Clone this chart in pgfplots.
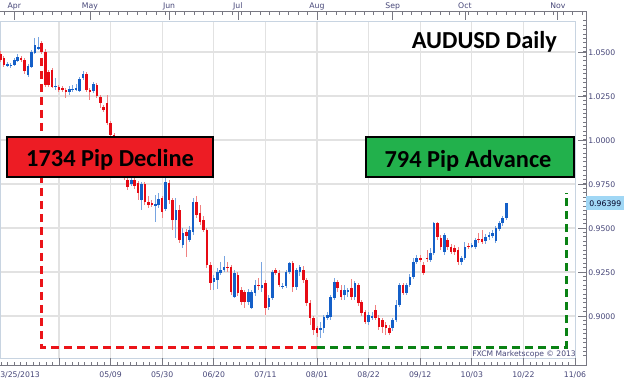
\documentclass[border=0pt]{standalone}
\usepackage{pgfplots}
\pgfplotsset{compat=1.18}
\usepackage{pgfplotstable}
\usepackage{fontspec}
\setmainfont{DejaVu Sans}
\newfontfamily\carlito{Carlito}
\definecolor{upbody}{RGB}{20,95,200}
\definecolor{upwick}{RGB}{120,165,225}
\definecolor{dnbody}{RGB}{230,10,20}
\definecolor{dnwick}{RGB}{240,130,130}
\definecolor{boxred}{RGB}{237,28,36}
\definecolor{boxgreen}{RGB}{34,177,76}
\definecolor{dashred}{RGB}{235,20,25}
\definecolor{dashgreen}{RGB}{10,130,20}
\definecolor{gridc}{RGB}{226,226,226}
\definecolor{framein}{RGB}{200,212,225}
\definecolor{frameout}{RGB}{120,120,130}
\definecolor{labc}{RGB}{70,70,120}
\definecolor{pricebox}{RGB}{160,215,245}
\def\ymn{0.87616}
\def\ymx{1.06757}
\newcommand\tlab{\fontsize{5.8}{7}\selectfont}

\pgfplotstableread{
x o h l c
-90 1.0420 1.0443 1.0414 1.0431
-89 1.0420 1.0437 1.0409 1.0426
-88 1.0426 1.0466 1.0420 1.0454
-87 1.0449 1.0488 1.0443 1.0471
-84 1.0369 1.0431 1.0358 1.0420
-83 1.0414 1.0511 1.0409 1.0500
-82 1.0494 1.0579 1.0488 1.0539
-81 1.0517 1.0585 1.0511 1.0528
-76 1.0301 1.0352 1.0284 1.0307
-72 1.0272 1.0307 1.0255 1.0289
-71 1.0284 1.0312 1.0272 1.0289
-70 1.0284 1.0318 1.0278 1.0295
-69 1.0278 1.0358 1.0272 1.0346
-68 1.0352 1.0392 1.0341 1.0375
-65 1.0278 1.0329 1.0267 1.0318
-57 0.9858 0.9915 0.9846 0.9898
-54 0.9750 0.9790 0.9739 0.9773
-51 0.9659 0.9761 0.9602 0.9750
-47 0.9625 0.9687 0.9534 0.9636
-46 0.9631 0.9699 0.9614 0.9665
-44 0.9608 0.9784 0.9597 0.9761
-41 0.9545 0.9670 0.9443 0.9602
-39 0.9403 0.9500 0.9386 0.9472
-37 0.9432 0.9511 0.9420 0.9489
-36 0.9477 0.9670 0.9460 0.9648
-30 0.9193 0.9233 0.9148 0.9216
-29 0.9205 0.9273 0.9153 0.9250
-28 0.9244 0.9307 0.9233 0.9261
-27 0.9261 0.9341 0.9250 0.9278
-24 0.9108 0.9261 0.9102 0.9244
-20 0.9080 0.9153 0.9063 0.9136
-19 0.9046 0.9148 0.9040 0.9136
-18 0.9131 0.9205 0.9114 0.9176
-16 0.9159 0.9307 0.9136 0.9176
-14 0.9051 0.9119 0.9034 0.9102
-13 0.9102 0.9261 0.9091 0.9250
-10 0.9165 0.9188 0.9153 0.9171
-9 0.9171 0.9261 0.9159 0.9250
-8 0.9250 0.9307 0.9239 0.9301
-6 0.9165 0.9273 0.9148 0.9261
-5 0.9250 0.9290 0.9227 0.9278
1 0.8921 0.8966 0.8875 0.8932
2 0.8932 0.9006 0.8904 0.8994
3 0.8989 0.9023 0.8977 0.9006
4 0.8994 0.9119 0.8977 0.9108
5 0.9102 0.9216 0.9091 0.9193
8 0.9119 0.9176 0.9091 0.9148
9 0.9136 0.9159 0.9108 0.9148
11 0.9108 0.9199 0.9091 0.9188
15 0.8966 0.9023 0.8949 0.9006
16 0.8989 0.9023 0.8977 0.9000
22 0.8932 0.8989 0.8915 0.8977
23 0.8977 0.9091 0.8966 0.9063
24 0.9063 0.9188 0.9051 0.9176
26 0.9131 0.9188 0.9119 0.9176
27 0.9176 0.9239 0.9165 0.9222
28 0.9222 0.9330 0.9210 0.9307
29 0.9307 0.9347 0.9295 0.9330
33 0.9318 0.9386 0.9307 0.9358
34 0.9358 0.9534 0.9347 0.9528
37 0.9364 0.9472 0.9347 0.9460
42 0.9307 0.9341 0.9290 0.9330
43 0.9330 0.9420 0.9318 0.9392
45 0.9392 0.9415 0.9386 0.9403
46 0.9392 0.9443 0.9381 0.9432
49 0.9426 0.9466 0.9409 0.9449
50 0.9449 0.9477 0.9432 0.9460
51 0.9455 0.9489 0.9443 0.9472
52 0.9426 0.9511 0.9415 0.9500
53 0.9494 0.9540 0.9483 0.9528
54 0.9528 0.9568 0.9511 0.9557
55 0.9557 0.9642 0.9545 0.96399
}\upcandles

\pgfplotstableread{
x o h l c
-92 1.0488 1.0505 1.0443 1.0454
-91 1.0466 1.0477 1.0414 1.0426
-86 1.0466 1.0477 1.0443 1.0454
-85 1.0454 1.0466 1.0375 1.0392
-80 1.0551 1.0562 1.0488 1.0500
-79 1.0500 1.0517 1.0301 1.0312
-78 1.0386 1.0397 1.0301 1.0312
-77 1.0397 1.0409 1.0295 1.0301
-75 1.0301 1.0312 1.0272 1.0284
-74 1.0295 1.0307 1.0272 1.0284
-73 1.0284 1.0295 1.0238 1.0272
-67 1.0375 1.0386 1.0272 1.0284
-66 1.0284 1.0295 1.0227 1.0272
-64 1.0312 1.0324 1.0238 1.0250
-63 1.0244 1.0255 1.0182 1.0210
-62 1.0187 1.0199 1.0159 1.0170
-61 1.0210 1.0255 1.0085 1.0096
-60 1.0096 1.0108 1.0000 1.0028
-59 1.0028 1.0040 0.9932 0.9943
-58 0.9943 0.9954 0.9869 0.9886
-56 0.9886 0.9898 0.9773 0.9784
-55 0.9773 0.9784 0.9716 0.9733
-53 0.9773 0.9784 0.9721 0.9739
-52 0.9756 0.9767 0.9659 0.9699
-50 0.9750 0.9761 0.9631 0.9648
-49 0.9648 0.9682 0.9614 0.9631
-48 0.9642 0.9659 0.9619 0.9631
-45 0.9670 0.9682 0.9557 0.9591
-43 0.9756 0.9773 0.9636 0.9659
-42 0.9659 0.9670 0.9489 0.9545
-40 0.9602 0.9631 0.9415 0.9432
-38 0.9477 0.9494 0.9335 0.9455
-35 0.9648 0.9682 0.9557 0.9574
-34 0.9585 0.9631 0.9517 0.9534
-33 0.9545 0.9568 0.9477 0.9489
-32 0.9489 0.9500 0.9273 0.9290
-31 0.9290 0.9307 0.9148 0.9188
-26 0.9278 0.9307 0.9250 0.9273
-25 0.9278 0.9290 0.9119 0.9136
-23 0.9233 0.9250 0.9114 0.9131
-22 0.9148 0.9165 0.9063 0.9080
-21 0.9136 0.9148 0.9046 0.9080
-17 0.9176 0.9216 0.9148 0.9171
-15 0.9188 0.9205 0.9006 0.9046
-12 0.9261 0.9273 0.9233 0.9244
-11 0.9244 0.9261 0.9165 0.9176
-7 0.9301 0.9313 0.9136 0.9165
-4 0.9261 0.9284 0.9188 0.9205
-3 0.9205 0.9216 0.9057 0.9074
-2 0.9074 0.9091 0.8949 0.8989
-1 0.8989 0.9000 0.8892 0.8921
0 0.8932 0.8943 0.8881 0.8904
6 0.9193 0.9205 0.9136 0.9159
7 0.9148 0.9176 0.9091 0.9108
10 0.9159 0.9210 0.9091 0.9108
12 0.9176 0.9188 0.9057 0.9074
13 0.9080 0.9091 0.9000 0.9017
14 0.9023 0.9034 0.8955 0.8966
17 0.9034 0.9063 0.8977 0.8989
18 0.8989 0.9006 0.8921 0.8938
19 0.8977 0.8989 0.8904 0.8938
20 0.8949 0.8966 0.8892 0.8932
21 0.8932 0.8949 0.8892 0.8904
25 0.9176 0.9188 0.9119 0.9131
30 0.9330 0.9347 0.9307 0.9318
31 0.9290 0.9307 0.9233 0.9244
32 0.9330 0.9375 0.9307 0.9324
35 0.9528 0.9534 0.9432 0.9449
36 0.9443 0.9460 0.9375 0.9392
38 0.9432 0.9443 0.9375 0.9392
39 0.9392 0.9409 0.9352 0.9364
40 0.9386 0.9403 0.9347 0.9364
41 0.9375 0.9392 0.9290 0.9307
44 0.9398 0.9415 0.9381 0.9392
47 0.9437 0.9472 0.9415 0.9432
48 0.9437 0.9489 0.9409 0.9420
}\dncandles

\begin{document}
\begin{tikzpicture}
\begin{axis}[scale only axis,
  width=431.25pt, height=252.75pt,
  xmin=-92.15, xmax=75, ymin=\ymn, ymax=\ymx,
  axis lines=box,
  axis line style={-, draw=framein, line width=0.75pt},
  xtick={-75,-60,...,60}, ytick={0.9,0.925,0.95,0.975,1,1.025,1.05},
  xticklabel=\empty, yticklabel=\empty, major tick length=0pt,
  grid=major, major grid style={draw=gridc, line width=1pt},
  clip=false]
\addplot[draw=none, mark=none, forget plot, error bars/.cd, y dir=both, y explicit, error mark=none,
  error bar style={draw=upwick, line width=0.75pt}]
  table[x=x, y=o, y error plus expr=\thisrow{h}-\thisrow{o}, y error minus expr=\thisrow{o}-\thisrow{l}] {\upcandles};
\addplot[draw=none, mark=none, forget plot, error bars/.cd, y dir=both, y explicit, error mark=none,
  error bar style={draw=dnwick, line width=0.75pt}]
  table[x=x, y=o, y error plus expr=\thisrow{h}-\thisrow{o}, y error minus expr=\thisrow{o}-\thisrow{l}] {\dncandles};
\addplot[draw=none, mark=none, forget plot, error bars/.cd, y dir=plus, y explicit, error mark=none,
  error bar style={draw=upbody, line width=1.95pt}]
  table[x=x, y=o, y error plus expr=\thisrow{c}-\thisrow{o}] {\upcandles};
\addplot[draw=none, mark=none, forget plot, error bars/.cd, y dir=plus, y explicit, error mark=none,
  error bar style={draw=dnbody, line width=1.95pt}]
  table[x=x, y=c, y error plus expr=\thisrow{o}-\thisrow{c}] {\dncandles};
% annotations
\draw[dashred, line width=2.25pt, dash pattern=on 6pt off 3.75pt]
  (axis cs:-80.2,1.0466) -- (axis cs:-80.2,0.8824) -- (axis cs:0,0.8824);
\draw[dashgreen, line width=2.25pt, dash pattern=on 6pt off 3.75pt]
  (axis cs:0,0.8824) -- (axis cs:72.4,0.8824) -- (axis cs:72.4,0.9699);
\draw[fill=boxred, draw=black, line width=1.9pt] (axis cs:-90.1,1.0017) rectangle (axis cs:-30.2,0.9790);
\node[anchor=base, inner sep=0pt, font=\carlito\bfseries\fontsize{18.3}{20}\selectfont] at (axis cs:-60.15,0.9852) {1734 Pip Decline};
\draw[fill=boxgreen, draw=black, line width=1.9pt] (axis cs:14.2,1.0017) rectangle (axis cs:74.7,0.9790);
\node[anchor=base, inner sep=0pt, font=\carlito\bfseries\fontsize{18.3}{20}\selectfont] at (axis cs:43.9,0.9846) {794 Pip Advance};
\node[anchor=base east, inner sep=0pt, font=\carlito\bfseries\fontsize{18.3}{20}\selectfont] at (axis cs:69.8,1.0522) {AUDUSD Daily};
\node[anchor=base east, inner sep=0pt, text=labc, font=\fontsize{5.7}{7}\selectfont] at (axis cs:75.3,0.8773) {FXCM Marketscope \textcopyright{} 2013};
% outer frame
\draw[frameout, line width=0.75pt] ([yshift=6.75pt]rel axis cs:0,1) -- ([xshift=8.25pt,yshift=6.75pt]rel axis cs:1,1)
  -- ([xshift=8.25pt,yshift=-5.25pt]rel axis cs:1,0) -- ([yshift=-5.25pt]rel axis cs:0,0);
% right scale
\pgfplotsinvokeforeach{0.9,0.925,0.95,0.975,1,1.025,1.05}{
  \draw[frameout, line width=0.5pt] ([xshift=8.25pt]axis cs:75,#1) -- ([xshift=2.5pt]axis cs:75,#1);}
\pgfplotsinvokeforeach{0.8775,0.88,...,1.0675}{
  \draw[frameout, line width=0.5pt] ([xshift=8.25pt]axis cs:75,#1) -- ([xshift=5.75pt]axis cs:75,#1);}
\node[anchor=mid west, inner sep=0pt, text=labc, font=\tlab] at ([xshift=9.75pt]axis cs:75,0.9) {0.9000};
\node[anchor=mid west, inner sep=0pt, text=labc, font=\tlab] at ([xshift=9.75pt]axis cs:75,0.925) {0.9250};
\node[anchor=mid west, inner sep=0pt, text=labc, font=\tlab] at ([xshift=9.75pt]axis cs:75,0.95) {0.9500};
\node[anchor=mid west, inner sep=0pt, text=labc, font=\tlab] at ([xshift=9.75pt]axis cs:75,0.975) {0.9750};
\node[anchor=mid west, inner sep=0pt, text=labc, font=\tlab] at ([xshift=9.75pt]axis cs:75,1.0) {1.0000};
\node[anchor=mid west, inner sep=0pt, text=labc, font=\tlab] at ([xshift=9.75pt]axis cs:75,1.025) {1.0250};
\node[anchor=mid west, inner sep=0pt, text=labc, font=\tlab] at ([xshift=9.75pt]axis cs:75,1.05) {1.0500};
\node[fill=pricebox, anchor=west, inner sep=0pt, minimum height=10.5pt, minimum width=28.5pt,
  font=\tlab, text=black!85!blue] at ([xshift=8.25pt]axis cs:75,0.96399) {0.96399};
% bottom scale
\pgfplotsinvokeforeach{-75,-60,...,75}{
  \draw[frameout, line width=0.5pt] ([yshift=-5.25pt]axis cs:#1,\ymn) -- (axis cs:#1,\ymn);}
\pgfplotsinvokeforeach{-91.875,-90,...,75}{
  \draw[frameout, line width=0.5pt] ([yshift=-5.25pt]axis cs:#1,\ymn) -- ([yshift=-3pt]axis cs:#1,\ymn);}
\node[anchor=base west, inner sep=0pt, text=labc, font=\tlab] at ([yshift=-14.4pt]axis cs:-92.15,\ymn) {3/25/2013};
\node[anchor=base, inner sep=0pt, text=labc, font=\tlab] at ([yshift=-14.4pt]axis cs:-60,\ymn) {05/09};
\node[anchor=base, inner sep=0pt, text=labc, font=\tlab] at ([yshift=-14.4pt]axis cs:-45,\ymn) {05/30};
\node[anchor=base, inner sep=0pt, text=labc, font=\tlab] at ([yshift=-14.4pt]axis cs:-30,\ymn) {06/20};
\node[anchor=base, inner sep=0pt, text=labc, font=\tlab] at ([yshift=-14.4pt]axis cs:-15,\ymn) {07/11};
\node[anchor=base, inner sep=0pt, text=labc, font=\tlab] at ([yshift=-14.4pt]axis cs:0,\ymn) {08/01};
\node[anchor=base, inner sep=0pt, text=labc, font=\tlab] at ([yshift=-14.4pt]axis cs:15,\ymn) {08/22};
\node[anchor=base, inner sep=0pt, text=labc, font=\tlab] at ([yshift=-14.4pt]axis cs:30,\ymn) {09/12};
\node[anchor=base, inner sep=0pt, text=labc, font=\tlab] at ([yshift=-14.4pt]axis cs:45,\ymn) {10/03};
\node[anchor=base, inner sep=0pt, text=labc, font=\tlab] at ([yshift=-14.4pt]axis cs:60,\ymn) {10/22};
\node[anchor=base, inner sep=0pt, text=labc, font=\tlab] at ([yshift=-14.4pt]axis cs:75,\ymn) {11/06};
% top scale
\pgfplotsinvokeforeach{-88,-66,-43,-23,0,22,43,70}{
  \draw[frameout, line width=0.5pt] ([yshift=6.75pt]axis cs:#1,\ymx) -- ([yshift=0.75pt]axis cs:#1,\ymx);}
\pgfplotsinvokeforeach{-90.75,-88,...,78}{
  \draw[frameout, line width=0.5pt] ([yshift=6.75pt]axis cs:#1,\ymx) -- ([yshift=4.25pt]axis cs:#1,\ymx);}
\node[anchor=base, inner sep=0pt, text=labc, font=\tlab] at ([yshift=9pt]axis cs:-88,\ymx) {Apr};
\node[anchor=base, inner sep=0pt, text=labc, font=\tlab] at ([yshift=9pt]axis cs:-66,\ymx) {May};
\node[anchor=base, inner sep=0pt, text=labc, font=\tlab] at ([yshift=9pt]axis cs:-43,\ymx) {Jun};
\node[anchor=base, inner sep=0pt, text=labc, font=\tlab] at ([yshift=9pt]axis cs:-23,\ymx) {Jul};
\node[anchor=base, inner sep=0pt, text=labc, font=\tlab] at ([yshift=9pt]axis cs:0,\ymx) {Aug};
\node[anchor=base, inner sep=0pt, text=labc, font=\tlab] at ([yshift=9pt]axis cs:22,\ymx) {Sep};
\node[anchor=base, inner sep=0pt, text=labc, font=\tlab] at ([yshift=9pt]axis cs:43,\ymx) {Oct};
\node[anchor=base, inner sep=0pt, text=labc, font=\tlab] at ([yshift=9pt]axis cs:70,\ymx) {Nov};
% picture extent
\coordinate (bbsw) at ([yshift=-18.75pt]rel axis cs:0,0);
\coordinate (bbne) at ([xshift=36.75pt,yshift=15.75pt]rel axis cs:1,1);
\end{axis}
\pgfresetboundingbox
\path[use as bounding box] (bbsw) rectangle (bbne);
\end{tikzpicture}
\end{document}
